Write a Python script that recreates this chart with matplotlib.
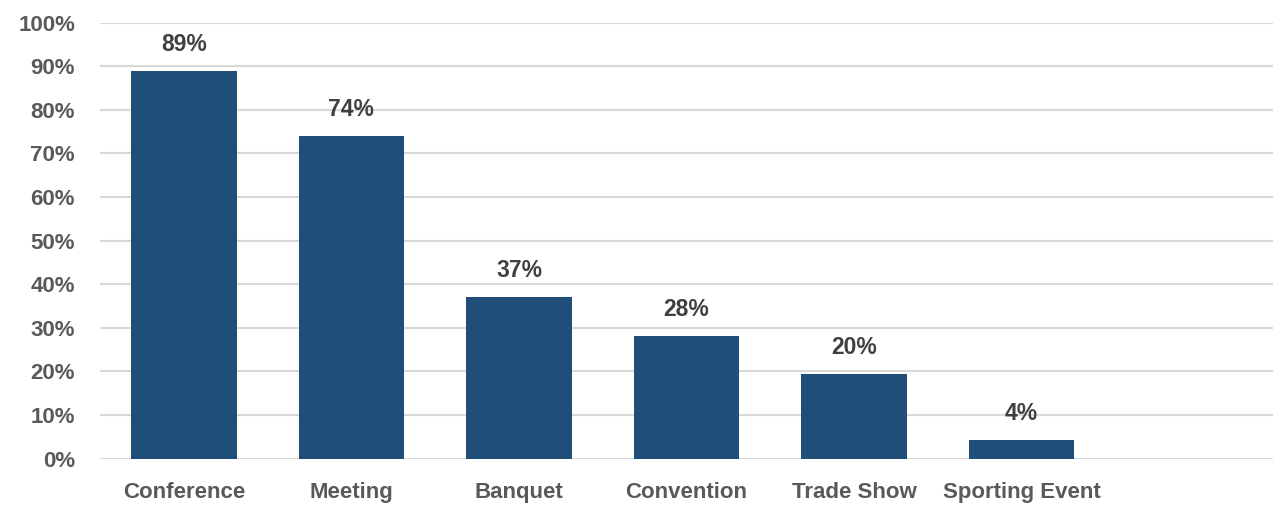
import matplotlib
matplotlib.use("Agg")
import matplotlib.pyplot as plt
from matplotlib import font_manager
from matplotlib.ticker import FuncFormatter, MultipleLocator

categories = ["Conference", "Meeting", "Banquet", "Convention", "Trade Show", "Sporting Event"]
values = [89, 74, 37, 28, 20, 4]
bar_heights = [88.9, 74.0, 37.0, 28.2, 19.5, 4.2]

names = {f.name for f in font_manager.fontManager.ttflist}
family = "Liberation Sans Narrow" if "Liberation Sans Narrow" in names else "Liberation Sans"
plt.rcParams["font.family"] = [family, "DejaVu Sans"]

fig = plt.figure(figsize=(12.84, 5.09), dpi=100)
ax = fig.add_axes([0.0779, 0.0992, 0.9135, 0.8562])

x = list(range(len(categories)))
ax.bar(x, bar_heights, width=0.63, color="#1F4E79", zorder=3)

for xi, v, h in zip(x, values, bar_heights):
    ax.text(xi, h + 3.4, f"{v}%", ha="center", va="bottom", fontsize=16.5,
            fontweight="bold", color="#404040")

ax.set_xlim(-0.5, 6.5)
ax.set_ylim(0, 100)
ax.yaxis.set_major_locator(MultipleLocator(10))
ax.yaxis.set_major_formatter(FuncFormatter(lambda v, _: f"{v:.0f}%"))
ax.set_xticks(x)
ax.set_xticklabels(categories)
ax.grid(axis="y", color="#D9D9D9", linewidth=1.5, zorder=0)
for s in ax.spines.values():
    s.set_visible(False)
ax.tick_params(axis="both", length=0, colors="#595959")
ax.tick_params(axis="y", labelsize=16, pad=18)
ax.tick_params(axis="x", labelsize=16, pad=17)
for lbl in ax.get_xticklabels() + ax.get_yticklabels():
    lbl.set_fontweight("bold")

fig.savefig("out.png", dpi=100)
